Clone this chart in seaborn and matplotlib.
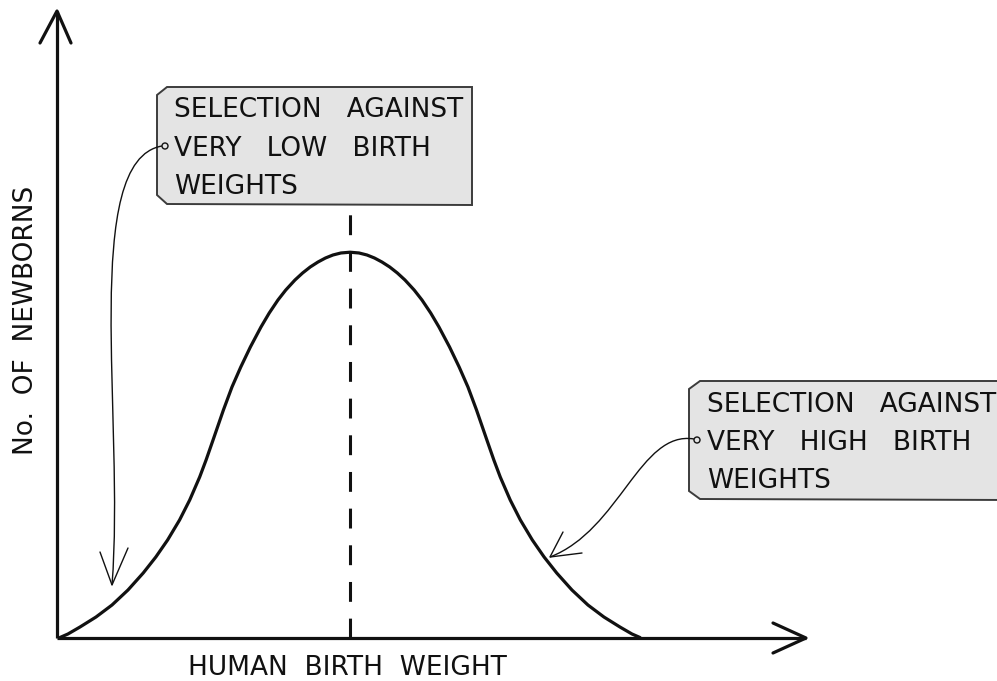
import matplotlib
matplotlib.use("Agg")
import matplotlib.pyplot as plt
from matplotlib.patches import Polygon, PathPatch, Circle
from matplotlib.path import Path
import seaborn as sns

# ------------------------------------------------------------
# DATA  (arbitrary units 0-100)
# ------------------------------------------------------------
weight = [0.39, 1.46, 3.06, 5.19, 7.32, 9.45, 11.48, 13.16, 14.73, 16.32,
          17.67, 19.00, 19.85, 20.78, 22.16, 23.30, 24.47, 25.75, 27.16, 28.26,
          29.42, 30.46, 31.69, 32.70, 33.72, 34.75, 35.75, 36.75, 37.81, 39.01,
          40.21, 41.27, 42.27, 43.27, 44.30, 45.32, 46.33, 47.56, 48.60, 49.76,
          50.86, 52.27, 53.55, 54.72, 55.86, 57.24, 58.17, 59.02, 60.35, 61.70,
          63.29, 64.86, 66.54, 68.57, 70.70, 72.83, 74.96, 76.56, 77.63]
newborns = [0.08, 0.64, 1.75, 3.34, 5.25, 7.64, 10.35, 12.90, 15.61, 18.79,
            21.97, 25.64, 28.34, 31.53, 36.31, 39.97, 43.15, 46.34, 49.52, 51.75,
            53.82, 55.41, 57.01, 58.12, 59.08, 59.87, 60.51, 60.99, 61.31, 61.43,
            61.31, 60.99, 60.51, 59.87, 59.08, 58.12, 57.01, 55.41, 53.82, 51.75,
            49.52, 46.34, 43.15, 39.97, 36.31, 31.53, 28.34, 25.64, 21.97, 18.79,
            15.61, 12.90, 10.35, 7.64, 5.25, 3.34, 1.75, 0.64, 0.08]

x_label = "HUMAN  BIRTH  WEIGHT"
y_label = "No.  OF  NEWBORNS"
low_note = ["SELECTION   AGAINST", "VERY   LOW   BIRTH", "WEIGHTS"]
high_note = ["SELECTION   AGAINST", "VERY   HIGH   BIRTH", "WEIGHTS"]

sns.set_theme(style="white")
plt.rcParams["font.family"] = ["DejaVu Sans"]

INK = "#111111"
BOX_FILL = "#e4e4e4"
BOX_EDGE = "#3c3c3c"
FS = 19

fig = plt.figure(figsize=(9.97, 6.81), dpi=100)

# overlay in pixel units for the hand-drawn furniture
deco = fig.add_axes([0, 0, 1, 1])
deco.set_xlim(0, 997)
deco.set_ylim(681, 0)
deco.axis("off")

# plotting area: origin at pixel (57, 638)
ax = fig.add_axes([57 / 997, 43 / 681, 751 / 997, 628 / 681])
ax.set_xlim(0, 100)
ax.set_ylim(0, 100)
ax.axis("off")
ax.patch.set_alpha(0)

# bell curve
sns.lineplot(x=weight, y=newborns, ax=ax, color=INK, linewidth=2.3,
             sort=False, estimator=None)
ax.lines[-1].set_solid_joinstyle("round")

# mean line up to the bottom of the box
peak = newborns.index(max(newborns))
ax.plot([weight[peak], weight[peak]], [0, 68.6], color=INK, linewidth=2.2,
        linestyle=(0, (6.5, 5.5)))

# axes with open arrow heads
deco.plot([57, 57], [638, 11], color=INK, lw=2.3, solid_capstyle="butt")
deco.plot([40, 57, 71], [43, 11, 43], color=INK, lw=2.3)
deco.plot([57, 806], [638, 638], color=INK, lw=2.3, solid_capstyle="butt")
deco.plot([773, 806, 773], [623, 638, 653], color=INK, lw=2.3)

deco.text(347, 675, x_label, ha="center", va="baseline", fontsize=FS, color=INK)
deco.text(33, 320, y_label, ha="center", va="baseline", rotation=90,
          rotation_mode="anchor", fontsize=FS, color=INK)


def note_box(corners, lines, tx, baselines):
    deco.add_patch(Polygon(corners, closed=True, facecolor=BOX_FILL,
                           edgecolor=BOX_EDGE, lw=1.4, clip_on=False, zorder=3))
    for line, by in zip(lines, baselines):
        deco.text(tx, by, line, ha="left", va="baseline", fontsize=FS,
                  color=INK, zorder=4)


note_box([(167, 87), (472, 87), (472, 205), (167, 204), (157, 195), (157, 95)],
         low_note, 174, [117, 156, 194])
note_box([(700, 381), (1010, 381), (1010, 500), (700, 499), (689, 491), (689, 389)],
         high_note, 707, [412, 450, 488])


def connector(p0, c1, c2, p3, wing_a, wing_b, dot):
    path = Path([p0, c1, c2, p3], [Path.MOVETO, Path.CURVE4, Path.CURVE4, Path.CURVE4])
    deco.add_patch(PathPatch(path, facecolor="none", edgecolor=INK, lw=1.0, zorder=5))
    deco.plot([wing_a[0], p3[0], wing_b[0]], [wing_a[1], p3[1], wing_b[1]],
              color=INK, lw=1.0, zorder=5)
    deco.add_patch(Circle(dot, 3, facecolor=BOX_FILL, edgecolor=INK, lw=1.0, zorder=6))


connector((162, 146), (80, 160), (125, 420), (112, 585), (100, 552), (128, 548), (165, 146))
connector((694, 439), (640, 430), (620, 530), (550, 557), (563, 532), (582, 553), (697, 440))

fig.savefig("out.png", dpi=100)
